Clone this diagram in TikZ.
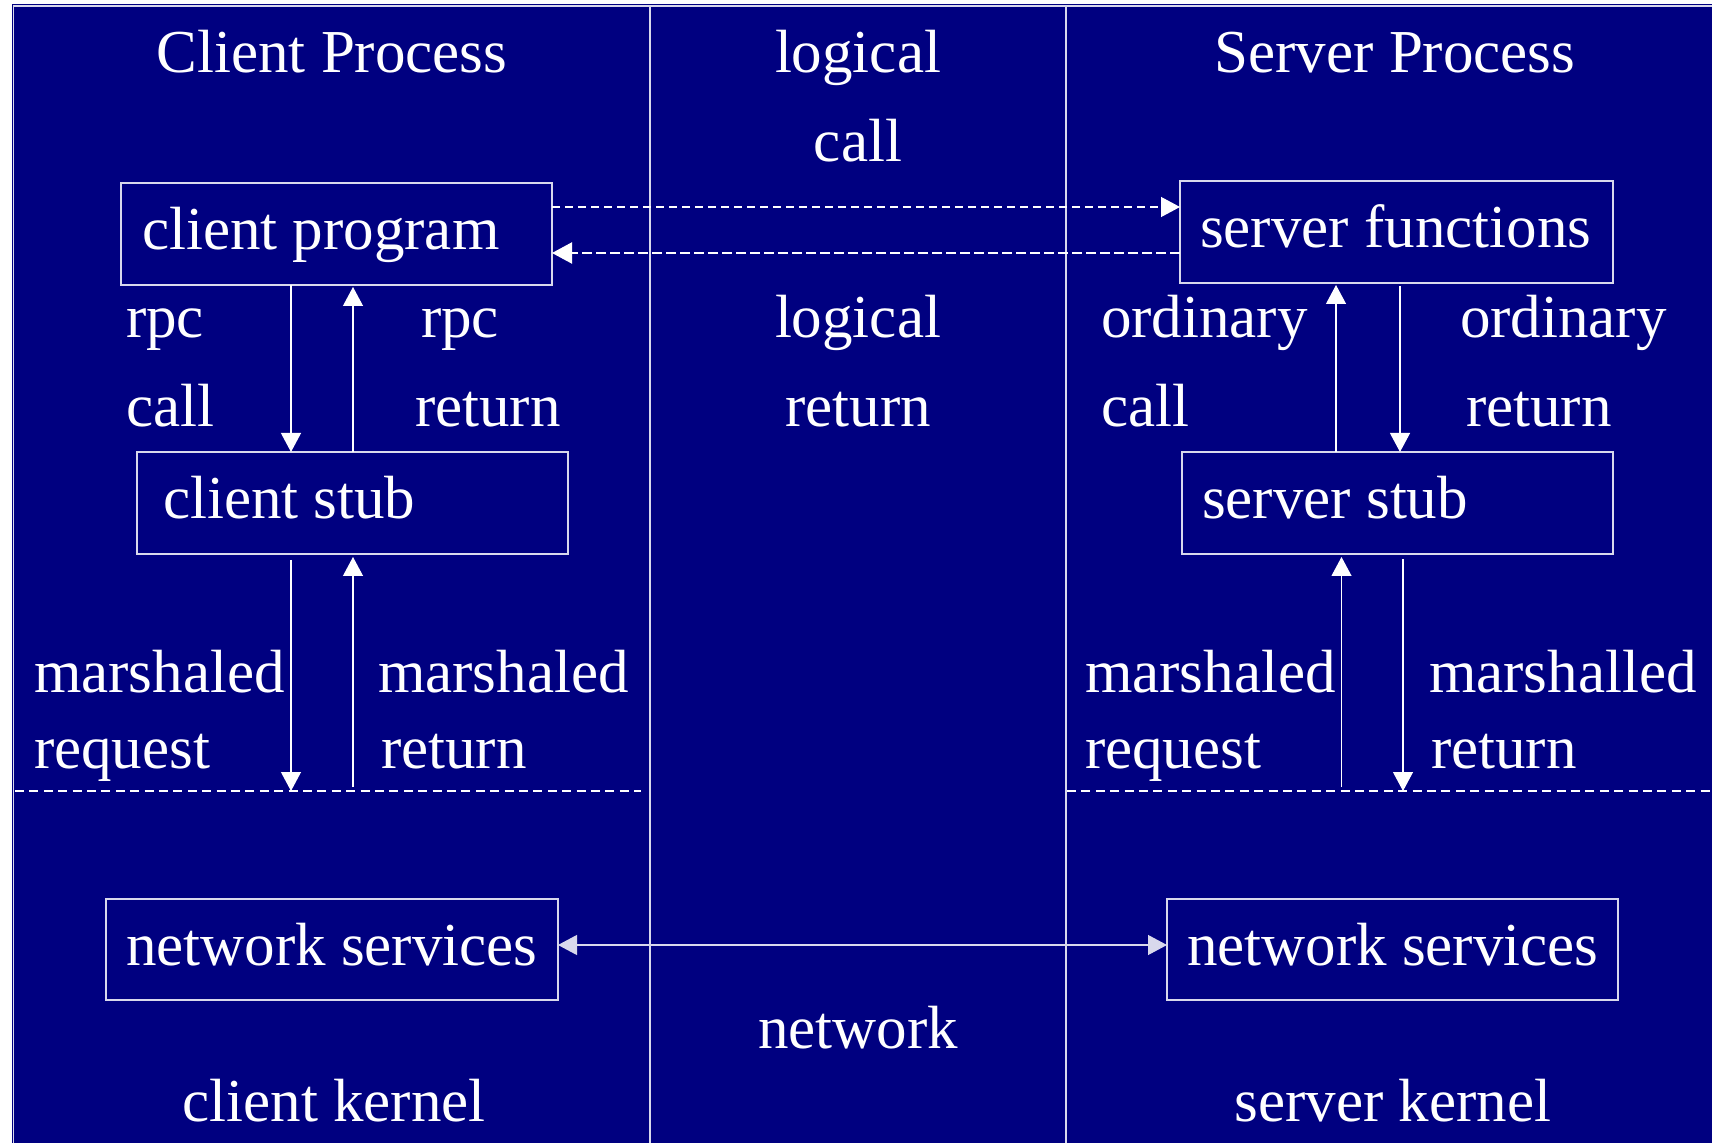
\documentclass[tikz,border=0pt]{standalone}
\usepackage{fontspec}
\setmainfont{Liberation Serif}
\usetikzlibrary{arrows.meta}
\definecolor{navybg}{HTML}{000080}
\definecolor{framecol}{HTML}{D8D8EC}
\begin{document}
\begin{tikzpicture}[x=0.5pt,y=-0.5pt,
  every node/.style={text=white, font=\fontsize{30.5pt}{36pt}\selectfont, inner sep=0pt, outer sep=0pt},
  boxnode/.style={draw=framecol, line width=0.8pt, rectangle, minimum height=51pt},
  lbl/.style={anchor=base west},
  clbl/.style={anchor=base},
  arr/.style={draw=white, line width=0.6pt, -{Triangle[length=9.5pt,width=10pt]}},
  framel/.style={draw=framecol, line width=0.8pt},
  sepl/.style={draw=white, line width=0.6pt, dash pattern=on 4.5pt off 2.7pt},
  dcall/.style={draw=white, line width=0.6pt, dash pattern=on 4pt off 2.5pt, -{Triangle[length=9.5pt,width=10pt]}},
  dret/.style={draw=white, line width=1.1pt, dash pattern=on 5pt off 2pt, -{Triangle[length=10pt,width=10.5pt]}}]
\useasboundingbox (0,0) rectangle (1712,1143);
\fill[white] (0,0) rectangle (1712,1143);
\fill[navybg] (12,4) rectangle (1712,1143);
% column frames
\draw[framel] (13.5,1143) -- (13.5,6) -- (1712,6);
\draw[framel] (650,6) -- (650,1143);
\draw[framel] (1066,6) -- (1066,1143);
% separators
\coordinate (sepy) at (0,791);
\draw[sepl] (15,791) -- (641,791);
\draw[sepl] (1067,791) -- (1712,791);
% boxes
\node[boxnode, minimum width=215.5pt] (cp) at (336.5,234) {};
\node[boxnode, minimum width=216.5pt] (sf) at (1396.5,232) {};
\node[boxnode, minimum width=215.5pt] (cs) at (352.5,503) {};
\node[boxnode, minimum width=215.5pt] (ss) at (1397.5,503) {};
\node[boxnode, minimum width=226pt, minimum height=50.5pt] (nsl) at (332,949.5) {};
\node[boxnode, minimum width=225.5pt, minimum height=50.5pt] (nsr) at (1392.5,949.5) {};
% box texts
\node[lbl] (tcp) at (142,250) {client program};
\node[lbl] (tsf) at (1200,248) {server functions};
\node[lbl] (tcs) at (163,519) {client stub};
\node[lbl] (tss) at (1202,519) {server stub};
\node[lbl] (tnsl) at (126,965) {network services};
\node[lbl] (tnsr) at (1187,965) {network services};
% titles
\node[clbl] (tcl) at (332,73) {Client Process};
\node[clbl] (tsv) at (1395,73) {Server Process};
\node[clbl] (tlc1) at (858,73) {logical};
\node[clbl] (tlc2) at (858,162) {call};
\node[clbl] (tlr1) at (858,338) {logical};
\node[clbl] (tlr2) at (858,427) {return};
\node[clbl] (tnet) at (858,1048) {network};
\node[clbl] (tck) at (334,1121) {client kernel};
\node[clbl] (tsk) at (1393,1121) {server kernel};
% side labels
\node[lbl] (r1) at (126,338) {rpc};
\node[lbl] (r2) at (126,427) {call};
\node[lbl] (r3) at (421,338) {rpc};
\node[lbl] (r4) at (415,427) {return};
\node[lbl] (o1) at (1101,338) {ordinary};
\node[lbl] (o2) at (1101,427) {call};
\node[lbl] (o3) at (1460,338) {ordinary};
\node[lbl] (o4) at (1466,427) {return};
\node[lbl] (m1) at (34,692) {marshaled};
\node[lbl] (m2) at (34,768) {request};
\node[lbl] (m3) at (378,692) {marshaled};
\node[lbl] (m4) at (381,768) {return};
\node[lbl] (m5) at (1085,692) {marshaled};
\node[lbl] (m6) at (1085,768) {request};
\node[lbl] (m7) at (1429,692) {marshalled};
\node[lbl] (m8) at (1431,768) {return};
% logical call / return (dashed)
\draw[dcall] (cp.east |- 0,207) -- (sf.west |- 0,207);
\draw[dret] (sf.west |- 0,253) -- (cp.east |- 0,253);
% client side vertical arrows
\draw[arr] (291,0 |- cp.south) -- (291,0 |- cs.north);
\draw[arr] (353,0 |- cs.north) -- ([yshift=-1pt]353,0 |- cp.south);
\draw[arr] ([yshift=-3pt]291,0 |- cs.south) -- (291,0 |- sepy);
\draw[arr] ([yshift=2pt]353,0 |- sepy) -- ([yshift=-1.5pt]353,0 |- cs.south);
% server side vertical arrows
\draw[arr] (1336,0 |- ss.north) -- ([yshift=-1pt]1336,0 |- sf.south);
\draw[arr] ([yshift=-1.5pt]1400,0 |- sf.south) -- (1400,0 |- ss.north);
\draw[arr] ([yshift=2pt]1341.5,0 |- sepy) -- ([yshift=-1.5pt]1341.5,0 |- ss.south);
\draw[arr] ([yshift=-2.5pt]1403,0 |- ss.south) -- (1403,0 |- sepy);
% network
\draw[draw=framecol, line width=0.6pt, {Triangle[length=9.5pt,width=10pt]}-{Triangle[length=9.5pt,width=10pt]}] (nsl.east |- 0,945) -- (nsr.west |- 0,945);
\end{tikzpicture}
\end{document}
